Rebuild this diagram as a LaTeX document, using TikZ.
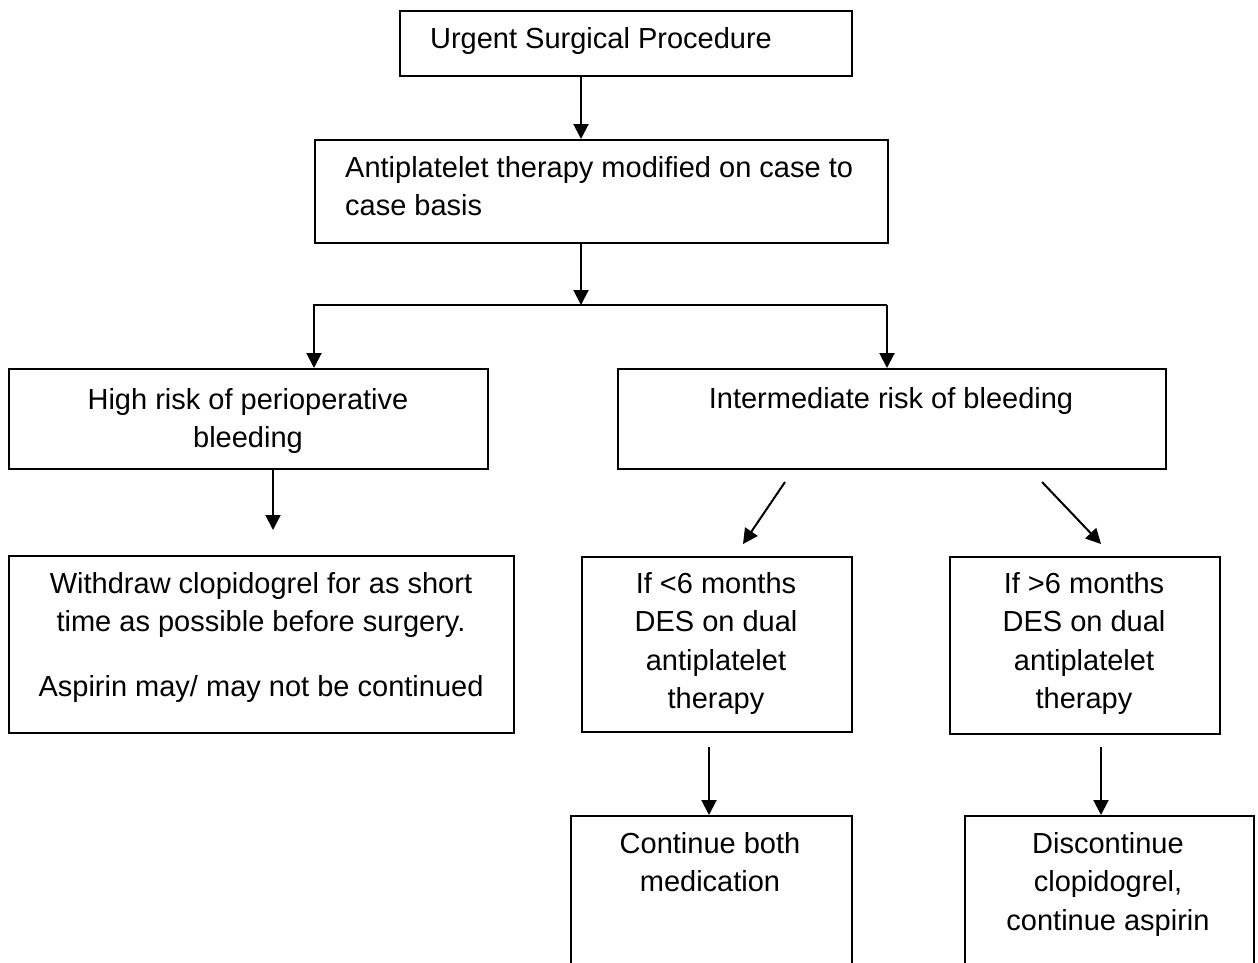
\documentclass[tikz,border=0pt]{standalone}
\usepackage{fontspec}
\setmainfont{Liberation Sans}
\usetikzlibrary{arrows.meta}
\begin{document}
\begin{tikzpicture}[x=1pt,y=-1pt,
  box/.style={draw=black, line width=2pt, inner sep=0pt, anchor=north west},
  txt/.style={font=\fontsize{29}{38.5}\selectfont, inner sep=0pt, align=center, anchor=north},
  arr/.style={line width=2pt, -{Triangle[length=15pt,width=15pt]}}]
\useasboundingbox (0,0) rectangle (1258,962);
\clip (0,0) rectangle (1258,962);
% boxes
\node[box, minimum width=452pt, minimum height=65pt]  (b1) at (399,10) {};
\node[box, minimum width=573pt, minimum height=103pt] (b2) at (314,139) {};
\node[box, minimum width=479pt, minimum height=100pt] (b3) at (8,368) {};
\node[box, minimum width=548pt, minimum height=100pt] (b4) at (617,368) {};
\node[box, minimum width=505pt, minimum height=177pt] (b5) at (8,555) {};
\node[box, minimum width=270pt, minimum height=175pt] (b6) at (581,556) {};
\node[box, minimum width=270pt, minimum height=177pt] (b7) at (949,556) {};
\node[box, minimum width=281pt, minimum height=220pt] (b8) at (570,815) {};
\node[box, minimum width=289pt, minimum height=220pt] (b9) at (964,815) {};
% texts (north = first baseline minus 21)
\node[txt] (t1) at (601,27) {Urgent Surgical Procedure};
\node[txt, align=left, anchor=north west] (t2) at (345,156) {Antiplatelet therapy modified on case to\\case basis};
\node[txt] (t3) at (248,388) {High risk of perioperative\\bleeding};
\node[txt] (t4) at (891,387) {Intermediate risk of bleeding};
\node[txt] (t5) at (261,572) {Withdraw clopidogrel for as short\\time as possible before surgery.\\[26.5pt]Aspirin may/ may not be continued};
\node[txt] (t6) at (716,572) {If <6 months\\DES on dual\\antiplatelet\\therapy};
\node[txt] (t7) at (1084,572) {If >6 months\\DES on dual\\antiplatelet\\therapy};
\node[txt] (t8) at (710,832) {Continue both\\medication};
\node[txt] (t9) at (1108,832) {Discontinue\\clopidogrel,\\continue aspirin};
% junction coordinates
\coordinate (j1) at (581,305);
\coordinate (bl) at (314,305);
\coordinate (br) at (887,305);
\coordinate (c3) at (273,530);
\coordinate (d1s) at (785,482);
\coordinate (d1e) at (743,544);
\coordinate (d2s) at (1042,482);
\coordinate (d2e) at (1101,544);
\coordinate (e1) at (709,747);
\coordinate (e2) at (1101,747);
% connectors
\draw[arr] (b1.south -| j1) -- (b2.north -| j1);
\draw[arr] (b2.south -| j1) -- (j1);
\draw[arr] (br) -- (bl) -- (b3.north -| bl);
\draw[arr] (br) -- (b4.north -| br);
\draw[arr] (b3.south -| c3) -- (c3);
\draw[arr] (d1s) -- (d1e);
\draw[arr] (d2s) -- (d2e);
\draw[arr] (e1) -- (b8.north -| e1);
\draw[arr] (e2) -- (b9.north -| e2);
\end{tikzpicture}
\end{document}
